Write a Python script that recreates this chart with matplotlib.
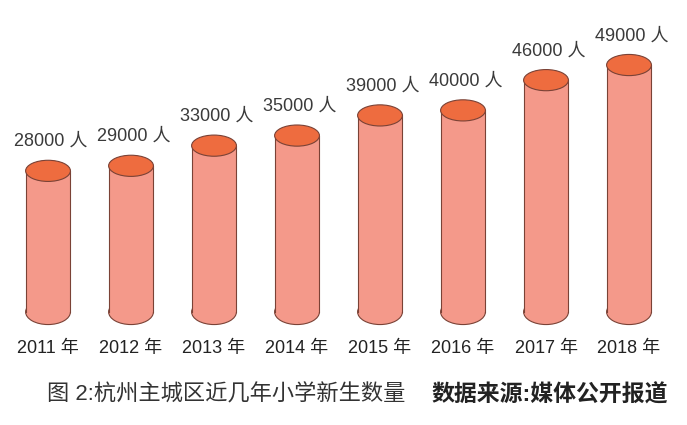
import matplotlib
matplotlib.use('Agg')
import matplotlib.pyplot as plt
from matplotlib.patches import Ellipse, Rectangle

plt.rcParams['font.family'] = ['Liberation Sans', 'Noto Sans CJK SC', 'DejaVu Sans']

students = [28000, 29000, 33000, 35000, 39000, 40000, 46000, 49000]
value_labels = ['28000 人', '29000 人', '33000 人', '35000 人', '39000 人', '40000 人', '46000 人', '49000 人']
year_labels = ['2011 年', '2012 年', '2013 年', '2014 年', '2015 年', '2016 年', '2017 年', '2018 年']
caption_left = '图 2:杭州主城区近几年小学新生数量'
caption_right = '数据来源:媒体公开报道'

body_color = '#F4998A'
top_color = '#EE6C3F'
edge_color = '#7A4236'
bar_w = 0.54
ell_h = 4200

fig = plt.figure(figsize=(6.87, 4.25), dpi=100)
ax = fig.add_axes([0.0095, 0.266, 0.9665, 0.664])
ax.set_xlim(-0.5, 7.5)
ax.set_ylim(0, 56000)
ax.axis('off')

for i, v in enumerate(students):
    # cylinder body
    ax.add_patch(Rectangle((i - bar_w / 2, 0), bar_w, v, facecolor=body_color,
                           edgecolor='none', zorder=2, clip_on=False))
    ax.add_patch(Ellipse((i, 0), bar_w, 5000, facecolor=body_color,
                         edgecolor=edge_color, lw=0.8, zorder=1, clip_on=False))
    ax.plot([i - bar_w / 2, i - bar_w / 2], [0, v], color=edge_color, lw=0.8,
            zorder=3, clip_on=False)
    ax.plot([i + bar_w / 2, i + bar_w / 2], [0, v], color=edge_color, lw=0.8,
            zorder=3, clip_on=False)
    ax.add_patch(Ellipse((i, v), bar_w, ell_h, facecolor=top_color,
                         edgecolor=edge_color, lw=0.8, zorder=4, clip_on=False))
    ax.text(i + 0.03, v + 5800, value_labels[i], ha='center', va='center',
            fontsize=13, color='#3a3a3a', zorder=5)
    ax.text(i, -7300, year_labels[i], ha='center', va='center',
            fontsize=13, color='#222222', clip_on=False)

fig.text(47 / 687, 1 - 395 / 425, caption_left, ha='left', va='center',
         fontsize=16, color='#333333')
fig.text(668 / 687, 1 - 395 / 425, caption_right, ha='right', va='center',
         fontsize=16.5, fontweight='bold', color='#222222')

fig.savefig('out.png', dpi=100, facecolor='white')
